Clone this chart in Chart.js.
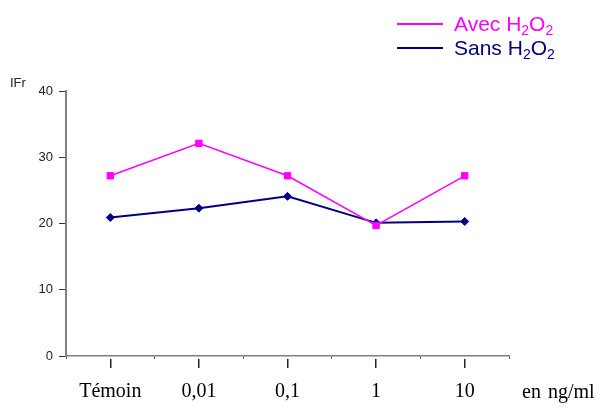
<!DOCTYPE html>
<html>
<head>
<meta charset="utf-8">
<script src="https://cdn.jsdelivr.net/npm/chart.js@4"></script>
<style>
  body { margin: 0; background: #fff; }
  #wrap { position: relative; width: 605px; height: 408px; }
  #legend { position: absolute; left: 397px; top: 12px; font-family: "Liberation Sans", Arial, sans-serif; font-size: 21px; }
  #legend .row { display: flex; align-items: center; height: 24px; }
  #legend .swatch { width: 46px; height: 2px; margin-right: 11px; }
  #legend sub { font-size: 14px; vertical-align: -4px; line-height: 0; }
  #yTitle { position: absolute; left: 10px; top: 75px; font: 13px "Liberation Sans", Arial, sans-serif; color: #222; }
  #xUnit { position: absolute; left: 522px; top: 380px; font: 20px "Liberation Serif", "Times New Roman", serif; color: #000; word-spacing: 2px; }
</style>
</head>
<body>
<div id="wrap">
  <canvas id="chart" width="605" height="408"></canvas>
  <div id="legend"></div>
  <div id="yTitle">IFr</div>
  <div id="xUnit">en ng/ml</div>
</div>
<script>
const categories = ['Témoin', '0,01', '0,1', '1', '10'];
const seriesNames = ['Avec H2O2', 'Sans H2O2'];
const avecH2O2 = [27.2, 32.1, 27.2, 19.7, 27.2];
const sansH2O2 = [20.9, 22.3, 24.1, 20.1, 20.3];
const yMin = 0, yMax = 40, yStep = 10;

const htmlLegend = {
    id: 'htmlLegend',
    afterUpdate(chart) {
        const box = document.getElementById('legend');
        box.innerHTML = '';
        chart.data.datasets.forEach(ds => {
            const row = document.createElement('div');
            row.className = 'row';
            const sw = document.createElement('span');
            sw.className = 'swatch';
            sw.style.background = ds.borderColor;
            const txt = document.createElement('span');
            txt.style.color = ds.borderColor;
            txt.innerHTML = ds.label.replace(/(\d)/g, '<sub>$1</sub>');
            row.appendChild(sw);
            row.appendChild(txt);
            box.appendChild(row);
        });
    }
};

const ctx = document.getElementById('chart').getContext('2d');
new Chart(ctx, {
    type: 'line',
    data: {
        labels: categories,
        datasets: [{
            label: seriesNames[0],
            data: avecH2O2,
            borderColor: '#ff00ff',
            backgroundColor: '#ff00ff',
            borderWidth: 1.5,
            pointStyle: 'rect',
            pointRadius: 4.5,
            pointBorderWidth: 1,
            tension: 0,
            clip: false
        }, {
            label: seriesNames[1],
            data: sansH2O2,
            borderColor: '#000080',
            backgroundColor: '#000080',
            borderWidth: 2,
            pointStyle: 'rectRot',
            pointRadius: 4,
            pointBorderWidth: 1,
            tension: 0,
            clip: false
        }]
    },
    options: {
        responsive: false,
        animation: false,
        layout: {
            padding: { top: 91, right: 96, bottom: 0, left: 0 }
        },
        scales: {
            x: {
                type: 'category',
                position: 'bottom',
                offset: true,
                ticks: { display: false },
                grid: { drawOnChartArea: false, offset: true, tickLength: 3, color: '#555' },
                border: { color: '#808080', width: 1.5 }
            },
            xLab: {
                type: 'category',
                labels: categories,
                position: 'bottom',
                weight: 1,
                offset: true,
                ticks: {
                    color: '#000',
                    padding: 12,
                    font: { family: '"Liberation Serif", "Times New Roman", serif', size: 20 }
                },
                grid: { drawOnChartArea: false, offset: false, tickLength: 9, color: '#222', lineWidth: 1.5 },
                border: { display: false },
                afterFit: scale => { scale.height = 49; }
            },
            y: {
                min: yMin,
                max: yMax,
                ticks: {
                    stepSize: yStep,
                    color: '#222',
                    padding: 6,
                    font: { family: '"Liberation Sans", Arial, sans-serif', size: 13 }
                },
                grid: { drawOnChartArea: false, tickLength: 7, color: '#333' },
                border: { color: '#808080', width: 2 },
                afterFit: scale => { scale.width = 66; }
            }
        },
        plugins: {
            legend: { display: false },
            tooltip: { enabled: false }
        }
    },
    plugins: [htmlLegend]
});
</script>
</body>
</html>
